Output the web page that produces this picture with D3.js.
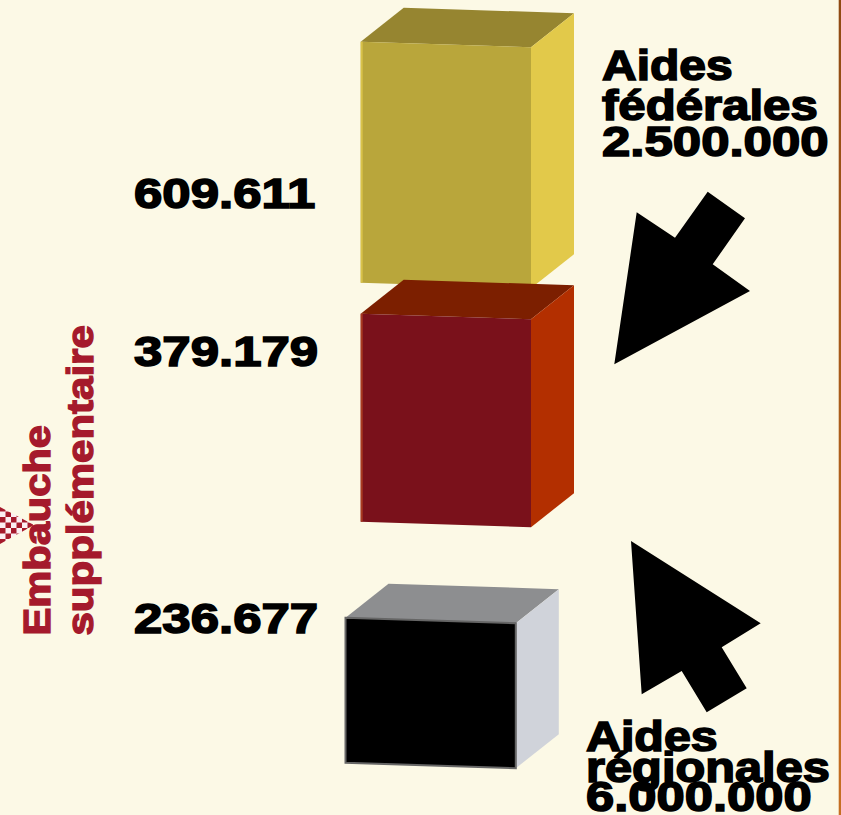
<!DOCTYPE html>
<html><head><meta charset="utf-8">
<script src="https://cdn.jsdelivr.net/npm/d3@7/dist/d3.min.js"></script>
<style>html,body{margin:0;padding:0;background:#fcf9e6;overflow:hidden}svg{display:block}
text{font-family:"Liberation Sans",Arial,sans-serif;font-weight:700}</style></head><body>
<script>
const categories = ["Aides fédérales", "Aides (intermédiaire)", "Aides régionales"];
const hiringValues = [609611, 379179, 236677];
const valueLabels = ["609.611", "379.179", "236.677"];
const frontColors = ["#b9a63b", "#7a111b", "#000000"];
const sideColors = ["#e2c94a", "#b32f00", "#d0d3da"];
const topColors = ["#968530", "#7c1f00", "#8d8e90"];
const edgeColors = ["#d8c24a", "#a83a20", "#666666"];
const axisTitle = ["Embauche", "supplémentaire"];
const aidLabelsTop = ["Aides", "fédérales", "2.500.000"];
const aidLabelsBottom = ["Aides", "régionales", "6.000.000"];

const W = 841, H = 815;
const svg = d3.select("body").append("svg").attr("width", W).attr("height", H);
const defs = svg.append("defs");
const grad = defs.append("linearGradient").attr("id", "edge").attr("x1", 0).attr("x2", 0).attr("y1", 0).attr("y2", 1);
grad.append("stop").attr("offset", 0).attr("stop-color", "#8f4a12");
grad.append("stop").attr("offset", 1).attr("stop-color", "#c66f22");
svg.append("rect").attr("width", W).attr("height", H).attr("fill", "#fcf9e6");
svg.append("rect").attr("x", 838.7).attr("width", 2.3).attr("height", H).attr("fill", "url(#edge)");

const heightScale = d3.scaleLinear().domain([236677, 379179, 609611]).range([145, 208, 241]);
const leftScale = d3.scaleOrdinal().domain(categories).range([360.7, 360.7, 345.5]);
const bottomScale = d3.scaleOrdinal().domain(categories).range([282.7, 521.7, 762.7]);
const frontW = 170.3, dx = 43, dy = 34, skew = 5.5;

const bars = svg.selectAll("g.bar").data(hiringValues.map((v, i) => ({v, i, c: categories[i]}))).join("g").attr("class", "bar");
const P = pts => pts.map(p => p.join(",")).join(" ");
bars.each(function(d) {
  const g = d3.select(this), x0 = leftScale(d.c), yb = bottomScale(d.c), h = heightScale(d.v);
  const x1 = x0 + frontW, yt = yb - h;
  g.append("polygon").attr("points", P([[x0, yt], [x1, yt + skew], [x1 + dx, yt + skew - dy], [x0 + dx, yt - dy]])).attr("fill", topColors[d.i]);
  g.append("polygon").attr("points", P([[x1, yt + skew], [x1 + dx, yt + skew - dy], [x1 + dx, yb + skew - dy], [x1, yb + skew]])).attr("fill", sideColors[d.i]);
  g.append("polygon").attr("points", P([[x0, yt], [x1, yt + skew], [x1, yb + skew], [x0, yb]])).attr("fill", frontColors[d.i]);
  if (d.i === 2) g.append("polygon").attr("points", P([[x0, yt], [x1, yt + skew], [x1, yb + skew], [x0, yb]]))
    .attr("fill", "none").attr("stroke", edgeColors[d.i]).attr("stroke-width", 2);
  else g.append("line").attr("x1", x0 + 1).attr("x2", x0 + 1).attr("y1", yt).attr("y2", yb).attr("stroke", edgeColors[d.i]).attr("stroke-width", 2);
});

function label(t, x, y, size, sw, stretch) {
  svg.append("text").attr("transform", `translate(${x},${y}) scale(${stretch},1)`).attr("font-size", size)
    .attr("fill", "#000").attr("stroke", "#000").attr("stroke-width", sw).text(t);
}
const valueY = [208, 366, 633];
valueLabels.forEach((t, i) => label(t, 134, valueY[i], 43, 1.6, 1.185));
const topStretch = [1.116, 1.143, 1.185], botStretch = [1.125, 1.134, 1.18];
aidLabelsTop.forEach((t, i) => label(t, 602, [80, 120, 156][i], 43, 1.6, topStretch[i]));
aidLabelsBottom.forEach((t, i) => label(t, 586, [751, 782, 811][i], 43, 1.6, botStretch[i]));

svg.append("polygon").attr("points", P([[707.7,191.7],[745,218.3],[712.7,264.3],[750,291],[614.3,364.3],[636.7,212.3],[675,237.7]])).attr("fill", "#000");
svg.append("polygon").attr("points", P([[631,541],[760.7,623.3],[721.7,647.3],[746.7,688.3],[706.7,712.3],[681.7,671],[641.7,694.3]])).attr("fill", "#000");

const pat = defs.append("pattern").attr("id", "chk").attr("width", 11).attr("height", 11).attr("patternUnits", "userSpaceOnUse");
pat.append("rect").attr("width", 11).attr("height", 11).attr("fill", "#fbeef2");
pat.append("rect").attr("width", 5.5).attr("height", 5.5).attr("fill", "#a51a2c");
pat.append("rect").attr("x", 5.5).attr("y", 5.5).attr("width", 5.5).attr("height", 5.5).attr("fill", "#a51a2c");
svg.append("polygon").attr("points", P([[0,507],[34,525],[0,544]])).attr("fill", "url(#chk)");
[[50, axisTitle[0], 1.125], [92.5, axisTitle[1], 1.135]].forEach(([x, t, s]) =>
  svg.append("text").attr("transform", `translate(${x},635.5) rotate(-90) scale(${s},1)`).attr("font-size", 37).attr("fill", "#a51a2c")
    .attr("stroke", "#a51a2c").attr("stroke-width", 1.4).text(t));
</script></body></html>
